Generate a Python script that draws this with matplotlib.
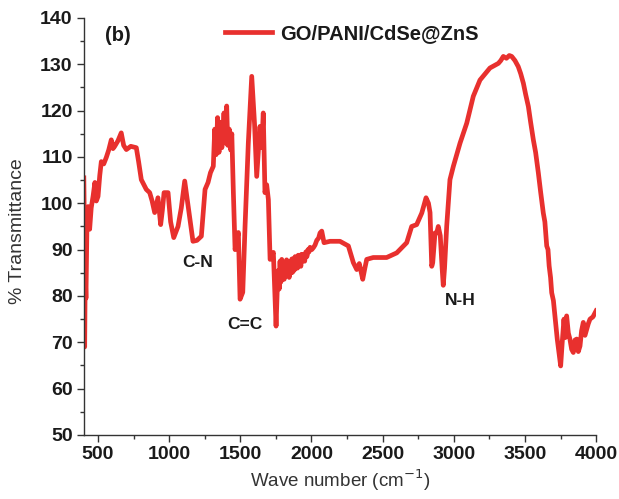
import matplotlib
matplotlib.use("Agg")
import matplotlib.pyplot as plt
from matplotlib.ticker import MultipleLocator

# FTIR spectrum: (wave number, % transmittance)
low_region = [
    (400, 105.5), (403, 98.0), (406, 69.0), (410, 85.0), (415, 79.5),
    (422, 95.0), (430, 99.3), (441, 94.4), (452, 99.0), (465, 101.5),
    (478, 104.5), (488, 100.5), (500, 101.5), (512, 106.0), (523, 109.0),
    (540, 108.5), (558, 109.9), (575, 111.5), (593, 113.7), (605, 111.8),
    (617, 112.3), (640, 113.5), (663, 115.2), (680, 112.5), (699, 111.6),
    (730, 112.3), (769, 112.0), (785, 109.0), (804, 105.1), (839, 103.0),
    (863, 102.3), (880, 100.5), (898, 98.0), (921, 101.2), (940, 95.4),
    (952, 98.5), (964, 102.3), (992, 102.3), (1010, 96.0), (1032, 92.6),
    (1062, 95.0), (1085, 99.0), (1109, 104.8), (1135, 99.0), (1167, 91.8),
    (1195, 92.0), (1226, 92.9), (1252, 103.0), (1273, 104.5), (1290, 106.6),
    (1310, 108.0),
]
fingerprint = [
    (1320, 116.0), (1330, 110.5), (1340, 118.5), (1350, 111.0), (1360, 117.5),
    (1370, 112.0), (1385, 119.5), (1395, 113.0), (1404, 121.0), (1412, 112.5),
    (1422, 116.0), (1432, 111.5), (1440, 115.0), (1451, 102.3), (1463, 90.0),
    (1486, 93.7), (1498, 79.3), (1517, 80.8), (1533, 95.0), (1556, 113.0),
    (1580, 127.4), (1590, 122.0), (1600, 117.0), (1615, 105.8), (1638, 116.6),
    (1650, 112.0), (1661, 119.5), (1673, 102.3), (1685, 104.0), (1697, 100.8),
    (1709, 87.9), (1732, 89.4), (1751, 73.5),
]
noisy_band = [
    (1760, 82.0), (1767, 85.5), (1773, 81.5), (1779, 87.5), (1785, 83.0),
    (1791, 87.9), (1797, 84.0), (1802, 86.5), (1808, 83.6), (1814, 87.0),
    (1820, 84.5), (1825, 87.8), (1831, 84.5), (1837, 87.2), (1843, 84.0),
    (1850, 87.5), (1856, 85.0), (1862, 88.0), (1867, 85.1), (1872, 88.0),
    (1878, 85.5), (1885, 88.5), (1890, 86.0), (1895, 88.0), (1901, 86.0),
    (1907, 88.8), (1914, 86.5), (1920, 88.5), (1925, 86.4), (1930, 89.0),
    (1937, 87.5), (1943, 89.0), (1952, 87.5), (1960, 89.5), (1968, 88.5),
    (1975, 90.0), (1983, 89.5), (1990, 90.5), (2002, 90.0), (2015, 90.5),
    (2025, 91.0), (2037, 92.0),
]
mid_region = [
    (2050, 92.5), (2060, 93.6), (2072, 94.0), (2088, 91.5), (2130, 91.8),
    (2200, 91.8), (2259, 90.8), (2294, 87.2), (2318, 85.7), (2336, 87.0),
    (2350, 85.0), (2360, 83.6), (2375, 86.0), (2388, 87.9), (2434, 88.3),
    (2528, 88.3), (2599, 89.3), (2669, 91.5), (2704, 95.0), (2739, 95.4),
    (2775, 97.9), (2805, 101.2), (2822, 100.0), (2833, 98.0), (2845, 86.4),
    (2852, 87.2), (2868, 93.6), (2880, 93.6), (2891, 95.0), (2905, 93.0),
    (2918, 86.0), (2926, 82.3), (2935, 86.0),
]
high_region = [
    (2950, 95.0), (2973, 105.1), (2997, 108.0), (3044, 113.0), (3091, 117.3),
    (3137, 123.1), (3184, 126.6), (3254, 129.2), (3313, 130.2), (3330, 130.8),
    (3348, 131.7), (3370, 131.3), (3390, 131.9), (3407, 131.7), (3430, 130.8),
    (3453, 129.5), (3470, 128.0), (3489, 125.9), (3505, 123.5), (3524, 120.9),
    (3540, 117.5), (3559, 113.7), (3575, 111.0), (3594, 106.6), (3610, 102.5),
    (3629, 97.9), (3640, 96.0), (3653, 90.8), (3662, 90.0), (3670, 86.5),
    (3680, 84.0), (3688, 80.7), (3700, 79.0), (3711, 75.7), (3727, 70.7),
    (3740, 67.5), (3751, 64.9), (3762, 70.0), (3774, 75.0), (3783, 71.0),
    (3793, 75.7), (3805, 72.0), (3816, 70.7), (3828, 68.5), (3840, 67.8),
    (3852, 70.5), (3864, 70.7), (3875, 68.0), (3887, 69.2), (3898, 72.5),
    (3910, 74.3), (3922, 71.5), (3934, 72.8), (3945, 74.0), (3957, 75.0),
    (3978, 75.5), (4000, 76.8),
]

spectrum = low_region + fingerprint + noisy_band + mid_region + high_region
wave = [p[0] for p in spectrum]
trans = [p[1] for p in spectrum]

fig = plt.figure(figsize=(6.19, 4.99), dpi=100)
ax = fig.add_axes([0.1354, 0.1283, 0.8276, 0.8357])

ax.plot(wave, trans, color='#e8302e', linewidth=3.4, solid_joinstyle='round',
        label='GO/PANI/CdSe@ZnS')

ax.set_xlim(400, 4000)
ax.set_ylim(50, 140)
ax.xaxis.set_major_locator(MultipleLocator(500))
ax.xaxis.set_minor_locator(MultipleLocator(250))
ax.yaxis.set_major_locator(MultipleLocator(10))
ax.yaxis.set_minor_locator(MultipleLocator(5))

for s in ['top', 'right']:
    ax.spines[s].set_visible(False)
for s in ['left', 'bottom']:
    ax.spines[s].set_linewidth(1.0)
    ax.spines[s].set_color('#333333')

ax.tick_params(which='major', direction='out', length=5, width=1, color='#333333',
               labelsize=14, pad=3)
ax.tick_params(which='minor', direction='out', length=3, width=1, color='#333333')
for lab in ax.get_xticklabels() + ax.get_yticklabels():
    lab.set_fontfamily('Liberation Sans')
    lab.set_fontweight('bold')
    lab.set_color('#1a1a1a')

ax.set_xlabel('Wave number (cm$^{-1}$)', fontsize=13.5, family='Liberation Sans',
              color='#333333', labelpad=3)
ax.set_ylabel('% Transmittance', fontsize=14, family='Liberation Sans',
              color='#333333', labelpad=4)
ax.yaxis.set_label_coords(-0.112, 0.49)

bold = dict(family='Liberation Sans', fontweight='bold', color='#1a1a1a')
ax.text(0.041, 0.957, '(b)', transform=ax.transAxes, fontsize=14.5, ha='left',
        va='center', **bold)
ax.text(1202, 87.2, 'C-N', fontsize=12.5, ha='center', va='center', **bold)
ax.text(1533, 73.9, 'C=C', fontsize=12.5, ha='center', va='center', **bold)
ax.text(3044, 79.1, 'N-H', fontsize=12.5, ha='center', va='center', **bold)

leg = ax.legend(loc='upper left', bbox_to_anchor=(0.245, 1.025), frameon=False,
                handlelength=2.3, handletextpad=0.4, borderpad=0.3,
                prop={'family': 'Liberation Sans', 'weight': 'bold', 'size': 14.5})
for t in leg.get_texts():
    t.set_color('#1a1a1a')

fig.savefig('out.png', dpi=100, facecolor='white')
